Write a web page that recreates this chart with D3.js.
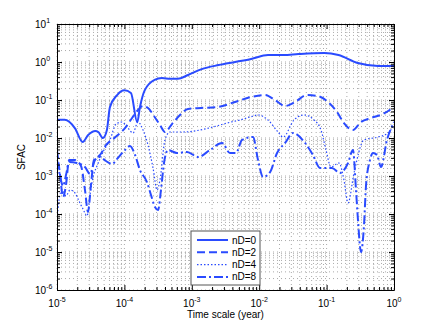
<!DOCTYPE html>
<html>
  <head>
    <script src="https://d3js.org/d3.v7.min.js"></script>
    <style>
      body { margin: 0; background: #fff; }
      text { font-family: "Liberation Sans", Arial, sans-serif; fill: #000; }
    </style>
  </head>
  <body>
    <div id="chart"></div>
    <script>
      // values (time in years, SFAC)
      var t0 = [1e-5, 1.3e-5, 1.85e-5, 2.4e-5, 2.9e-5, 3.7e-5, 4.1e-5, 4.8e-5, 5.5e-5, 6.1e-5, 7.8e-5, 1.0e-4, 1.25e-4, 1.55e-4, 1.7e-4, 2.0e-4, 2.8e-4, 3.6e-4, 4.8e-4, 6.2e-4, 8.8e-4, 1.4e-3, 2.5e-3, 4.4e-3, 7.6e-3, 1.35e-2, 2.3e-2, 3.8e-2, 9.2e-2, 0.15, 0.29, 0.58, 1];
      var v0 = [0.030, 0.030, 0.018, 0.0079, 0.012, 0.0153, 0.0144, 0.010, 0.0163, 0.065, 0.135, 0.18, 0.153, 0.026, 0.065, 0.18, 0.34, 0.38, 0.36, 0.36, 0.455, 0.65, 0.83, 1.0, 1.2, 1.53, 1.53, 1.62, 1.72, 1.53, 0.94, 0.79, 0.79];

      var t2 = [1e-5, 1.11e-5, 1.23e-5, 1.36e-5, 1.51e-5, 1.85e-5, 2.27e-5, 2.6e-5, 2.88e-5, 3.19e-5, 3.54e-5, 4.35e-5, 5.33e-5, 6.55e-5, 8.0e-5, 1.02e-4, 1.3e-4, 1.59e-4, 1.89e-4, 2.24e-4, 2.75e-4, 3.37e-4, 4.0e-4, 5.08e-4, 6.68e-4, 8.79e-4, 1.37e-3, 2.45e-3, 4.38e-3, 7.56e-3, 1.22e-2, 1.71e-2, 2.42e-2, 3.4e-2, 5.12e-2, 7.45e-2, 0.105, 0.143, 0.181, 0.246, 0.324, 0.456, 0.687, 1];
      var v2 = [4.8e-3, 1.06e-3, 2.8e-4, 5.8e-4, 2.64e-3, 2.64e-3, 1.83e-3, 4.3e-4, 1.13e-4, 5.8e-4, 2.64e-3, 3.57e-3, 6.5e-3, 8.9e-3, 0.012, 0.0183, 0.0336, 0.0546, 0.0695, 0.0616, 0.0379, 0.022, 0.0144, 0.0233, 0.0403, 0.058, 0.0616, 0.0654, 0.0886, 0.12, 0.135, 0.1, 0.0695, 0.0886, 0.135, 0.127, 0.0886, 0.0483, 0.0248, 0.0162, 0.0264, 0.0336, 0.0428, 0.0654];

      var t4 = [1e-5, 1.07e-5, 1.19e-5, 1.36e-5, 1.56e-5, 1.85e-5, 2.12e-5, 2.43e-5, 2.79e-5, 3.09e-5, 3.42e-5, 3.92e-5, 4.98e-5, 6.11e-5, 7.5e-5, 9.2e-5, 1.13e-4, 1.34e-4, 1.59e-4, 1.89e-4, 2.24e-4, 2.66e-4, 3.05e-4, 3.37e-4, 4.0e-4, 4.75e-4, 7.4e-4, 1.32e-3, 2.07e-3, 3.33e-3, 5.19e-3, 7.31e-3, 9.6e-3, 1.35e-2, 1.9e-2, 2.26e-2, 3.28e-2, 4.62e-2, 6.5e-2, 8.26e-2, 9.8e-2, 0.116, 0.153, 0.181, 0.208, 0.255, 0.359, 0.579, 0.815, 1];
      var v4 = [6.2e-5, 2.33e-4, 4.3e-4, 2.98e-4, 4.3e-4, 3.57e-4, 2.2e-4, 1.35e-4, 8.9e-5, 3.16e-4, 9.4e-4, 1.83e-3, 4.83e-3, 8.9e-3, 0.0233, 0.0264, 0.0183, 0.0135, 0.0264, 0.0162, 6.5e-3, 1.62e-3, 4.3e-4, 7.8e-4, 8.9e-3, 0.0144, 0.0144, 0.0162, 0.0195, 0.0248, 0.0298, 0.0357, 0.0403, 0.0298, 0.0144, 0.0106, 0.0298, 0.0403, 0.0298, 0.0162, 4.83e-3, 1.73e-3, 2.2e-3, 7.8e-4, 1.95e-4, 1.2e-3, 8.9e-3, 0.0106, 0.0135, 0.022];

      var t8 = [1e-5, 1.11e-5, 1.23e-5, 1.36e-5, 1.51e-5, 1.98e-5, 2.6e-5, 3.09e-5, 3.66e-5, 4.35e-5, 5.33e-5, 6.55e-5, 8.0e-5, 1.02e-4, 1.21e-4, 1.44e-4, 1.70e-4, 2.16e-4, 2.48e-4, 2.84e-4, 3.16e-4, 3.49e-4, 3.87e-4, 4.44e-4, 6.03e-4, 8.49e-4, 1.24e-3, 1.86e-3, 2.81e-3, 3.69e-3, 4.53e-3, 5.56e-3, 8.1e-3, 9.6e-3, 1.14e-2, 1.45e-2, 1.84e-2, 2.42e-2, 3.17e-2, 4.79e-2, 6.28e-2, 7.98e-2, 0.120, 0.158, 0.208, 0.246, 0.273, 0.292, 0.324, 0.359, 0.385, 0.440, 0.488, 0.560, 0.641, 0.787, 1];
      var v8 = [2.64e-3, 1.0e-3, 5.46e-4, 1.06e-3, 2.33e-3, 2.2e-3, 1.73e-3, 1.13e-3, 2.64e-3, 3.16e-3, 2.48e-3, 2.07e-3, 2.98e-3, 4.83e-3, 6.15e-3, 3.57e-3, 1.44e-3, 6.95e-4, 3.16e-4, 1.53e-4, 1.27e-4, 4.3e-4, 2.2e-3, 4.83e-3, 4.03e-3, 4.28e-3, 3.16e-3, 4.83e-3, 7.4e-3, 4.03e-3, 4.03e-3, 8.9e-3, 0.0106, 2.64e-3, 9.4e-4, 1.27e-3, 4.03e-3, 7.4e-3, 0.0135, 7.4e-3, 3.57e-3, 1.62e-3, 1.62e-3, 1.2e-3, 2.2e-3, 4.83e-3, 4.3e-4, 6.95e-5, 1e-5, 5.1e-5, 5.8e-4, 2.64e-3, 4.03e-3, 3.57e-3, 1.73e-3, 8.9e-3, 0.0264];

      var seriesNames = ["nD=0", "nD=2", "nD=4", "nD=8"];
      var xTickExps = [-5, -4, -3, -2, -1, 0];
      var yTickExps = [-6, -5, -4, -3, -2, -1, 0, 1];

      var W = 436, H = 327;
      var margin = { top: 24, right: 42, bottom: 37, left: 57 };
      var w = W - margin.left - margin.right, h = H - margin.top - margin.bottom;
      var blue = "#2a4bff";

      var svg = d3.select("#chart").append("svg")
        .attr("width", W).attr("height", H);
      var g = svg.append("g")
        .attr("transform", "translate(" + margin.left + "," + margin.top + ")");

      var x = d3.scaleLog().domain([1e-5, 1]).range([0, w]);
      var y = d3.scaleLog().domain([1e-6, 10]).range([h, 0]);

      // major + minor positions on each log axis
      function logSteps(lo, hi) {
        var out = [];
        for (var e = lo; e < hi; e++)
          for (var k = 1; k < 10; k++) out.push(k * Math.pow(10, e));
        out.push(Math.pow(10, hi));
        return out;
      }
      var xAll = logSteps(-5, 0), yAll = logSteps(-6, 1);

      // dotted grid
      g.append("g").selectAll("line").data(xAll).enter().append("line")
        .attr("x1", function(d) { return x(d); }).attr("x2", function(d) { return x(d); })
        .attr("y1", 0).attr("y2", h)
        .attr("stroke", "#aaa").attr("stroke-width", 1).attr("stroke-dasharray", "1,3");
      g.append("g").selectAll("line").data(yAll).enter().append("line")
        .attr("y1", function(d) { return y(d); }).attr("y2", function(d) { return y(d); })
        .attr("x1", 0).attr("x2", w)
        .attr("stroke", "#aaa").attr("stroke-width", 1).attr("stroke-dasharray", "1,3");

      svg.append("clipPath").attr("id", "clip")
        .append("rect").attr("width", w).attr("height", h);

      var series = [
        { name: seriesNames[0], t: t0, v: v0, width: 2, dash: null },
        { name: seriesNames[1], t: t2, v: v2, width: 2, dash: "8,4" },
        { name: seriesNames[2], t: t4, v: v4, width: 1.2, dash: "1.5,2" },
        { name: seriesNames[3], t: t8, v: v8, width: 2, dash: "9,3,2,3" }
      ];

      var line = d3.line()
        .x(function(d) { return x(d[0]); })
        .y(function(d) { return y(d[1]); })
        .curve(d3.curveMonotoneX);

      var plot = g.append("g").attr("clip-path", "url(#clip)");
      series.forEach(function(s) {
        plot.append("path")
          .datum(d3.zip(s.t, s.v))
          .attr("d", line)
          .attr("fill", "none")
          .attr("stroke", blue)
          .attr("stroke-width", s.width)
          .attr("stroke-dasharray", s.dash);
      });

      // axes: inward ticks on all four sides
      function isMajor(d) { return Math.abs(Math.log10(d) - Math.round(Math.log10(d))) < 1e-9; }
      var axB = g.append("g").attr("transform", "translate(0," + h + ")")
        .call(d3.axisBottom(x).tickValues(xAll).tickFormat("").tickSizeInner(-3).tickSizeOuter(0));
      var axT = g.append("g")
        .call(d3.axisTop(x).tickValues(xAll).tickFormat("").tickSizeInner(-3).tickSizeOuter(0));
      var axL = g.append("g")
        .call(d3.axisLeft(y).tickValues(yAll).tickFormat("").tickSizeInner(-3).tickSizeOuter(0));
      var axR = g.append("g").attr("transform", "translate(" + w + ",0)")
        .call(d3.axisRight(y).tickValues(yAll).tickFormat("").tickSizeInner(-3).tickSizeOuter(0));
      [axB, axT].forEach(function(a) {
        a.selectAll(".tick line").filter(isMajor).attr("y2", a === axB ? -5 : 5);
      });
      [axL, axR].forEach(function(a) {
        a.selectAll(".tick line").filter(isMajor).attr("x2", a === axL ? 5 : -5);
      });
      [axB, axT, axL, axR].forEach(function(a) {
        a.select(".domain").attr("stroke", "#000");
        a.selectAll(".tick line").attr("stroke", "#000");
      });

      // tick labels 10^n
      xTickExps.forEach(function(e) {
        var t = g.append("text")
          .attr("x", x(Math.pow(10, e))).attr("y", h + 17)
          .attr("text-anchor", "middle").style("font-size", "10px");
        t.append("tspan").text("10");
        t.append("tspan").attr("dy", -5).style("font-size", "7px").text(e);
      });
      yTickExps.forEach(function(e) {
        var t = g.append("text")
          .attr("x", -22).attr("y", y(Math.pow(10, e)) + 4)
          .attr("text-anchor", "start").style("font-size", "10px");
        t.append("tspan").text("10");
        t.append("tspan").attr("dy", -5).style("font-size", "7px").text(e);
      });

      svg.append("text")
        .attr("x", margin.left + w / 2).attr("y", 318)
        .attr("text-anchor", "middle").style("font-size", "10px")
        .text("Time scale (year)");
      svg.append("text")
        .attr("transform", "translate(25," + (margin.top + h / 2) + ") rotate(-90)")
        .attr("text-anchor", "middle").style("font-size", "10px")
        .text("SFAC");

      // legend
      var lg = svg.append("g").attr("transform", "translate(191,231)");
      lg.append("rect").attr("width", 69).attr("height", 54)
        .attr("fill", "#fff").attr("stroke", "#555").attr("stroke-width", 1);
      series.forEach(function(s, i) {
        var yy = 9 + i * 12.3;
        lg.append("line").attr("x1", 6).attr("x2", 37).attr("y1", yy).attr("y2", yy)
          .attr("stroke", blue).attr("stroke-width", s.width).attr("stroke-dasharray", s.dash);
        lg.append("text").attr("x", 41).attr("y", yy + 3.5)
          .style("font-size", "10px").text(s.name);
      });
    </script>
  </body>
</html>
